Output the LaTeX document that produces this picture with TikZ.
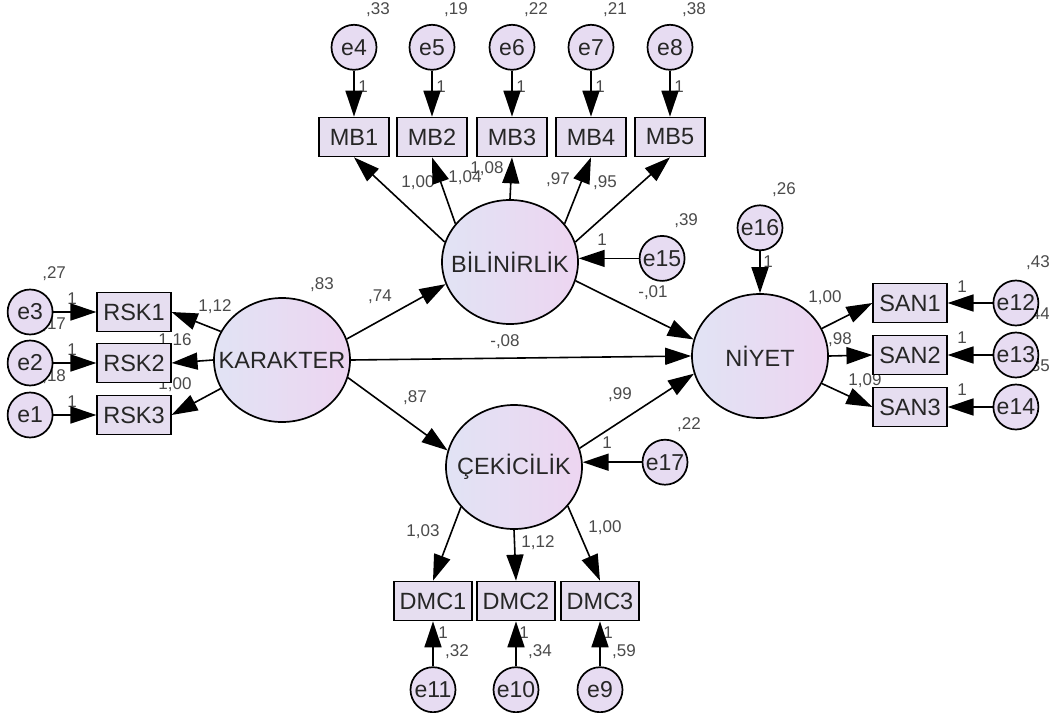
\documentclass[tikz,border=0pt]{standalone}
\usepackage{fontspec}
\setmainfont{Liberation Sans}
\usetikzlibrary{shapes.geometric,arrows.meta,positioning,calc}
\definecolor{latl}{HTML}{E1E3F4}
\definecolor{latr}{HTML}{EDD5F1}
\definecolor{obsfill}{HTML}{E6DEF0}
\definecolor{errfill}{HTML}{E7DCF2}
\definecolor{numgray}{HTML}{4A4A4A}
\newcommand{\latname}[1]{\makebox[0pt]{#1}}
\pgfdeclarelayer{bg}
\pgfsetlayers{bg,main}

\begin{document}
\begin{tikzpicture}[x=1pt,y=-1pt,
    lat/.style={ellipse,draw,line width=1.7pt,minimum width=136pt,minimum height=124pt,inner sep=0pt,
      left color=latl,right color=latr,text=black!85,font=\fontsize{23.5}{26}\selectfont},
    obs/.style={rectangle,draw,line width=1.7pt,minimum width=70pt,minimum height=39pt,inner xsep=6pt,inner ysep=0pt,
      fill=obsfill,text=black!85,font=\fontsize{23.5}{26}\selectfont},
    err/.style={circle,draw,line width=1.7pt,minimum size=45pt,inner sep=0pt,
      fill=errfill,text=black!85,font=\fontsize{23}{25}\selectfont},
    num/.style={inner sep=0pt,text=numgray,font=\fontsize{17}{20}\selectfont},
    arr/.style={-{Triangle[length=26pt,width=17pt]},line width=1.6pt}]
  \useasboundingbox (0,0) rectangle (1049,712);

  \node[lat] (kar) at (282,360) {\latname{KARAKTER}};
  \node[lat] (bil) at (510,262) {\latname{BİLİNİRLİK}};
  \node[lat] (cek) at (514,467) {\latname{ÇEKİCİLİK}};
  \node[lat] (niy) at (760,356) {\latname{NİYET}};

  \foreach \i/\x in {1/354,2/432,3/512,4/591,5/670}
    \node[obs] (mb\i) at (\x,137) {MB\i};
  \foreach \i/\y in {1/312,2/363,3/415}
    \node[obs] (rsk\i) at (134,\y) {RSK\i};
  \foreach \i/\y in {1/303,2/355,3/407}
    \node[obs] (san\i) at (910,\y) {SAN\i};
  \foreach \i/\x in {1/433,2/516,3/600}
    \node[obs] (dmc\i) at (\x,601) {DMC\i};

  \foreach \i/\e in {1/4,2/5,3/6,4/7,5/8}
    \node[err,above=46pt of mb\i] (e\e) {e\e};
  \foreach \i/\e in {1/3,2/2,3/1}
    \node[err,left=43pt of rsk\i] (e\e) {e\e};
  \foreach \i/\e in {1/12,2/13,3/14}
    \node[err,right=45pt of san\i] (e\e) {e\e};
  \foreach \i/\e in {1/11,2/10,3/9}
    \node[err,below=45pt of dmc\i] (e\e) {e\e};
  \node[err,right=60pt of bil.3] (e15) {e15};
  \node[err,above=42pt of niy] (e16) {e16};
  \node[err,right=59pt of cek.4] (e17) {e17};

  \begin{pgfonlayer}{bg}
    \foreach \e/\v in {4/{,33},5/{,19},6/{,22},7/{,21},8/{,38},3/{,27},2/{,17},1/{,18},
        15/{,39},16/{,26},17/{,22},11/{,32},10/{,34},9/{,59}}
      \node[num] (v\e) at ($(e\e)+(24,-38)$) {\v};
    \foreach \e/\v in {12/{,43},13/{,44},14/{,35}}
      \node[num] (v\e) at ($(e\e)+(22,-40)$) {\v};
    \node[num] (vkar) at ($(kar)+(40,-75)$) {,83};
    \foreach \p/\v [count=\k] in {{363,87}/1,{441,87}/1,{521,87}/1,{600,87}/1,{679,87}/1,
        {72,299}/1,{72,350}/1,{72,402}/1,{962,287}/1,{962,338}/1,{962,390}/1,
        {443,633}/1,{524,633}/1,{608,633}/1,{602,240}/1,{768,262}/1,{607,443}/1}
      \node[num] (f\k) at (\p) {\v};
    \foreach \p/\v [count=\k] in {{418,183}/{1,00},{465,178}/{1,04},{487,169}/{1,08},{558,180}/{,97},{605,183}/{,95},
        {215,307}/{1,12},{175,341}/{1,16},{175,385}/{1,00},
        {825,298}/{1,00},{840,340}/{,98},{865,381}/{1,09},
        {423,532}/{1,03},{538,543}/{1,12},{605,528}/{1,00},
        {380,297}/{,74},{505,342}/{-,08},{415,398}/{,87},{653,293}/{-,01},{620,395}/{,99}}
      \node[num] (w\k) at (\p) {\v};
  \end{pgfonlayer}

  \foreach \i/\a in {1/163,2/145,3/90,4/35,5/17}
    \draw[arr] (bil.\a) -- (mb\i.south);
  \foreach \i/\a in {1/155,2/180,3/205}
    \draw[arr] (kar.\a) -- (rsk\i.east);
  \foreach \i/\a in {1/24,2/0,3/336}
    \draw[arr] (niy.\a) -- (san\i.west);
  \foreach \i/\a in {1/217,2/270,3/324}
    \draw[arr] (cek.\a) -- (dmc\i.north);
  \draw[arr] (kar.18) -- (bil.199);
  \draw[arr] (kar.0) -- (niy.180);
  \draw[arr] (kar.345) -- (cek.166);
  \draw[arr] (bil.344) -- (niy.166);
  \draw[arr] (cek.16) -- (niy.195);

  \foreach \i/\e in {1/4,2/5,3/6,4/7,5/8}
    \draw[arr] (e\e) -- (mb\i);
  \foreach \i/\e in {1/3,2/2,3/1}
    \draw[arr] (e\e) -- (rsk\i);
  \foreach \i/\e in {1/12,2/13,3/14}
    \draw[arr] (e\e) -- (san\i);
  \foreach \i/\e in {1/11,2/10,3/9}
    \draw[arr] (e\e) -- (dmc\i);
  \draw[arr] (e15) -- (bil.3);
  \draw[arr] (e16) -- (niy);
  \draw[arr] (e17) -- (cek.4);
\end{tikzpicture}
\end{document}
